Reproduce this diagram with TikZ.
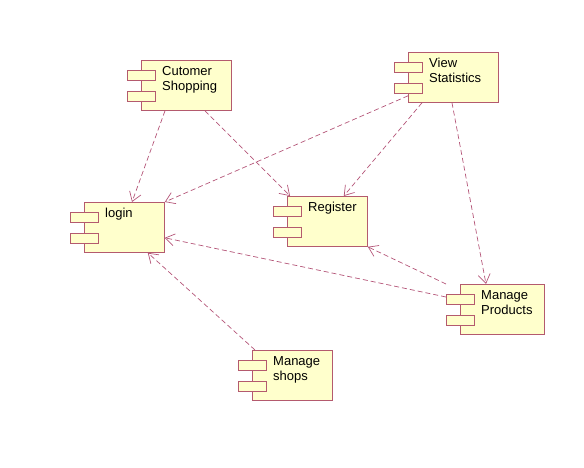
\documentclass[tikz,border=0pt]{standalone}
\usepackage{fontspec}
\setmainfont{Liberation Sans}
\usepackage{xcolor}
\usepackage{tikz}
\usetikzlibrary{arrows.meta}
\definecolor{compline}{RGB}{180,90,110}
\definecolor{compfill}{RGB}{255,255,204}
\definecolor{deparrow}{RGB}{180,85,120}
\tikzstyle{component} = [rectangle, anchor=north west, minimum width=80pt, minimum height=50pt, draw=compline, fill=compfill, line width=0.8pt, inner sep=0pt]
\tikzstyle{compname} = [anchor=north west, inner sep=0pt, xshift=21pt, yshift=-6pt, align=left, font=\fontsize{13}{15}\selectfont]
\tikzstyle{tab} = [draw=compline, fill=compfill, line width=0.8pt]
\tikzstyle{arrow} = [draw=deparrow, line width=0.7pt, dash pattern=on 5pt off 3pt, -{Straight Barb[length=9pt,width=12pt]}]

\begin{document}
\begin{tikzpicture}[x=1pt, y=-1pt]

    \useasboundingbox (0,0) rectangle (584,468);

    % Nodes
    \node (cs) [component, minimum width=90pt, label={[compname]north west:Cutomer\\Shopping}] at (141,60) {};
    \node (vs) [component, minimum width=90pt, label={[compname]north west:View\\Statistics}] at (408,52) {};
    \node (lg) [component, label={[compname]north west:login}] at (84,202) {};
    \node (rg) [component, label={[compname]north west:Register}] at (287,196) {};
    \node (mp) [component, minimum width=84pt, label={[compname]north west:Manage\\Products}] at (460,284) {};
    \node (ms) [component, label={[compname]north west:Manage\\shops}] at (252,350) {};

    % Tabs
    \foreach \c in {cs,vs,lg,rg,mp,ms}{
        \draw [tab] ([xshift=-14pt,yshift=-10pt]\c.north west) rectangle ++(28pt,-10pt);
        \draw [tab] ([xshift=-14pt,yshift=-31pt]\c.north west) rectangle ++(28pt,-10pt);
    }

    % Arrows
    \draw [arrow] ([xshift=24pt]cs.south west) -- ([xshift=48pt]lg.north west);
    \draw [arrow] ([xshift=64pt]cs.south west) -- ([xshift=3pt]rg.north west);
    \draw [arrow] ([yshift=7pt]vs.south west) -- (lg.north east);
    \draw [arrow] ([xshift=14pt]vs.south west) -- ([xshift=-24pt]rg.north east);
    \draw [arrow] ([xshift=44pt]vs.south west) -- ([xshift=26pt]mp.north west);
    \draw [arrow] ([xshift=-14pt]mp.north west) -- (rg.south east);
    \draw [arrow] ([xshift=-14pt,yshift=-13pt]mp.north west) -- ([yshift=15pt]lg.south east);
    \draw [arrow] ([xshift=3pt]ms.north west) -- ([xshift=-17pt]lg.south east);

\end{tikzpicture}
\end{document}
